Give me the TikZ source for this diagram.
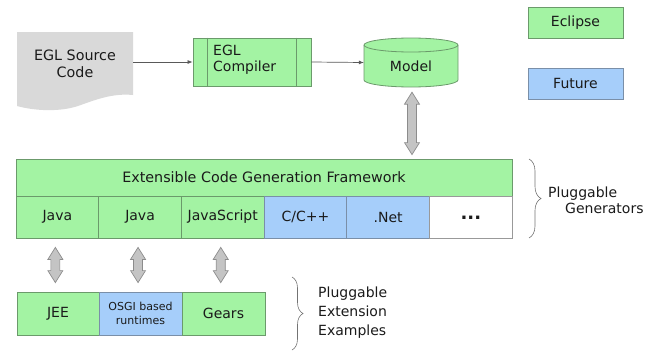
\documentclass[tikz,border=0pt]{standalone}
\usepackage{fontspec}
\setmainfont{DejaVu Sans}
\usetikzlibrary{calc,decorations.pathreplacing,arrows.meta}
\definecolor{gfill}{HTML}{A3F3A3}
\definecolor{gline}{HTML}{6B9A6B}
\definecolor{bfill}{HTML}{A6CEFA}
\definecolor{bline}{HTML}{7A8FA8}
\definecolor{docgray}{HTML}{D9D9D9}
\definecolor{arrgray}{HTML}{C4C4C4}
\definecolor{arrline}{HTML}{8C8C8C}
\definecolor{txt}{HTML}{1A1A1A}
\tikzset{
  every node/.style={text=txt, font=\fontsize{14}{16}\selectfont, inner sep=0pt},
  greenbox/.style={draw=gline, fill=gfill, line width=0.8pt, rectangle},
  bluebox/.style={draw=bline, fill=bfill, line width=0.8pt, rectangle},
  cellbox/.style={minimum width=82.7pt, minimum height=42pt},
  botbox/.style={minimum height=43pt},
  conn/.style={draw=black!65, line width=0.7pt, -{Latex[length=5pt,width=4pt]}},
  fatarrow/.style={draw=arrline, fill=arrgray, line width=0.7pt, line join=miter},
  bracestyle/.style={draw=black!55, line width=0.6pt, decorate},
}
% vertical double arrow between two named points (top tip, bottom tip)
\newcommand\vdblarrow[2]{%
  \draw[fatarrow] (#1) -- ++(7.5,12) -- ++(-3,0) -- ($(#2)+(4.5,-12)$) -- ++(3,0)
    -- (#2) -- ++(-7.5,-12) -- ++(3,0) -- ($(#1)+(-4.5,12)$) -- ++(-3,0) -- cycle;}
\begin{document}
\begin{tikzpicture}[x=1pt,y=-1pt]
\useasboundingbox (0,0) rectangle (649,351);

% source document
\fill[docgray] (17,32) -- (133,32) -- (133,95)
  .. controls (112,93) and (95,100) .. (78,106)
  .. controls (60,112) and (35,111) .. (17,106) -- cycle;
\node (src) [minimum width=116pt, minimum height=60pt, align=center,
  font=\fontsize{14.3}{17}\selectfont] at (75,64) {EGL Source\\Code};

% compiler
\node (comp) [greenbox, minimum width=118pt, minimum height=48pt] at (252,62) {};
\draw[gline, line width=0.8pt] ([xshift=15pt]comp.north west) -- ([xshift=15pt]comp.south west);
\draw[gline, line width=0.8pt] ([xshift=-15pt]comp.north east) -- ([xshift=-15pt]comp.south east);
\node (comptext) [anchor=west, align=left] at (213,60) {EGL\\Compiler};

% model cylinder
\draw[gline, fill=gfill, line width=0.8pt] (364,45) -- (364,80)
  arc[start angle=180, end angle=360, x radius=47pt, y radius=7pt] -- (458,45);
\draw[gline, fill=gfill, line width=0.8pt] (411,45) ellipse[x radius=47pt, y radius=7pt];
\node (model) [minimum width=94pt, minimum height=49pt] at (411,62.5) {};
\node (modeltext) at (411,66) {Model};

\draw[conn] (src.east |- comp.west) -- (comp.west);
\draw[conn] (comp.east) -- (model.west);

% legend
\node (eclipse) [greenbox, minimum width=95pt, minimum height=31pt] at (575.5,22.5) {Eclipse};
\node (future) [bluebox, minimum width=95pt, minimum height=31pt] at (575.5,83.5) {Future};

% framework
\node (fw) [greenbox, minimum width=496pt, minimum height=37pt,
  font=\fontsize{14.3}{16}\selectfont] at (264,177.5)
  {Extensible Code Generation Framework};
\node (c1) [greenbox, cellbox] at (57.35,217) {Java};
\node (c2) [greenbox, cellbox] at (140.05,217) {Java};
\node (c3) [greenbox, cellbox] at (222.75,217) {JavaScript};
\node (c4) [bluebox, cellbox] at (305.45,217) {C/C++};
\node (c5) [bluebox, cellbox] at (388.15,217) {.Net};
\node (c6) [draw=black!40, fill=white, line width=0.8pt, cellbox,
  font=\fontsize{18}{18}\selectfont] at (470.85,217)
  {\raisebox{-5pt}{\textbf{...}}};

% bottom boxes
\node (jee) [greenbox, botbox, minimum width=82pt] at (58,313.5) {JEE};
\node (osgi) [bluebox, botbox, minimum width=83pt, align=center,
  font=\fontsize{11}{14}\selectfont] at (140.5,313.5) {OSGI based\\runtimes};
\node (gears) [greenbox, botbox, minimum width=83pt] at (223.5,313.5) {Gears};

% double arrows
\coordinate (a0t) at ($(model.south)+(1,5)$);
\coordinate (a0b) at ($(model.south |- fw.north)+(1,-4)$);
\vdblarrow{a0t}{a0b}
\coordinate (a1t) at ($(c1.south)+(-2,9)$);
\coordinate (a1b) at ($(c1.south |- jee.north)+(-2,-9)$);
\vdblarrow{a1t}{a1b}
\coordinate (a2t) at ($(c2.south)+(-2,9)$);
\coordinate (a2b) at ($(c2.south |- osgi.north)+(-2,-9)$);
\vdblarrow{a2t}{a2b}
\coordinate (a3t) at ($(c3.south)+(-2,9)$);
\coordinate (a3b) at ($(c3.south |- gears.north)+(-2,-9)$);
\vdblarrow{a3t}{a3b}

% braces
\draw[bracestyle, decoration={brace, amplitude=12pt}] (529,159) -- (529,238);
\node (plg) [anchor=west, align=left] at (548,200.5) {Pluggable\\\hspace*{17pt}Generators};

\draw[bracestyle, decoration={brace, amplitude=11pt}] (292,277) -- (292,350);
\node (ext) [anchor=west, align=left, font=\fontsize{14}{19}\selectfont] at (318,313)
  {Pluggable\\Extension\\Examples};
\end{tikzpicture}
\end{document}
